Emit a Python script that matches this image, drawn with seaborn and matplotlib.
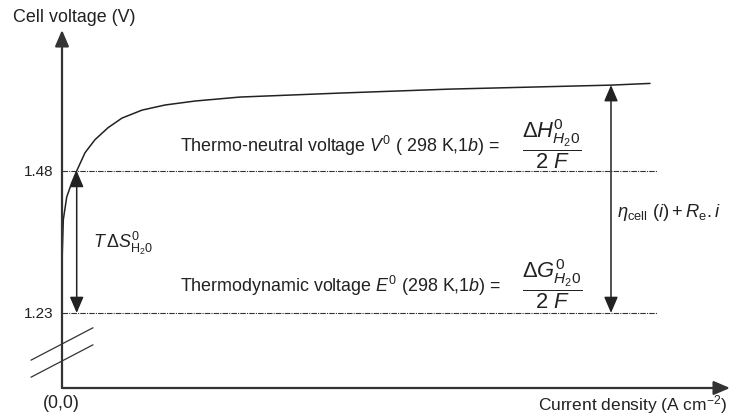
import numpy as np
import pandas as pd
import matplotlib
matplotlib.use("Agg")
import matplotlib.pyplot as plt
import seaborn as sns

# Polarisation curve of the electrolysis cell (arbitrary current-density units)
current_density = [0.000, 0.003, 0.013, 0.047, 0.097, 0.147, 0.23, 0.33, 0.46,
                   0.60, 0.80, 1.03, 1.33, 1.78, 2.78, 3.88, 5.49, 5.88]
cell_voltage = [1.302, 1.336, 1.394, 1.434, 1.459, 1.480, 1.512, 1.535, 1.556,
                1.573, 1.587, 1.596, 1.603, 1.610, 1.617, 1.624, 1.631, 1.634]

# Reference voltages
thermoneutral_v = 1.48
thermodynamic_v = 1.23
ytick_values = [thermodynamic_v, thermoneutral_v]
ytick_labels = ["1.23", "1.48"]

# Abscissae of the two bracket arrows
entropy_arrow_x = 0.147
overvoltage_arrow_x = 5.49
overvoltage_top = 1.631

sns.set_theme(style="white")
plt.rcParams["font.family"] = ["Liberation Sans", "DejaVu Sans"]
plt.rcParams["mathtext.fontset"] = "custom"
plt.rcParams["mathtext.rm"] = "Liberation Sans"
plt.rcParams["mathtext.it"] = "Liberation Sans:italic"
plt.rcParams["mathtext.bf"] = "Liberation Sans:bold"

W, H = 731, 418
fig = plt.figure(figsize=(W / 100, H / 100), dpi=100)
ax = fig.add_axes([62 / W, 30 / H, 668 / W, 358 / H])
ax.set_xlim(0, 6.68)
ax.set_ylim(1.098, 1.728)
for s in ax.spines.values():
    s.set_visible(False)
ax.set_xticks([])
ax.set_yticks(ytick_values)
ax.set_yticklabels(ytick_labels, fontsize=11, color="#222222")
ax.tick_params(axis="y", length=0, pad=6)

# Axes with arrowheads
axis_arrow = dict(arrowstyle="-|>,head_length=0.7,head_width=0.3",
                  color="#333333", lw=1.6, shrinkA=0, shrinkB=0,
                  mutation_scale=14)
ax.annotate("", xy=(0, 1), xytext=(0, 0), xycoords="axes fraction",
            arrowprops=axis_arrow)
ax.annotate("", xy=(1, 0), xytext=(0, 0), xycoords="axes fraction",
            arrowprops=axis_arrow)

# Axis break marks
for y0 in (1.147, 1.117):
    ax.plot([-0.31, 0.31], [y0, y0 + 0.057], color="#333333", lw=0.9,
            clip_on=False)

# Reference voltage levels
for v in (thermoneutral_v, thermodynamic_v):
    ax.plot([0, 5.95], [v, v], color="#333333", lw=0.8,
            linestyle=(0, (5, 1, 1, 1)))

# Polarisation curve
curve = pd.DataFrame({"j": current_density, "U": cell_voltage})
sns.lineplot(data=curve, x="j", y="U", ax=ax, color="#222222", lw=1.1,
             estimator=None, sort=False)
ax.set_xlabel("")
ax.set_ylabel("")

arrow_kw = dict(arrowstyle="<|-|>,head_length=0.7,head_width=0.3",
                color="#222222", lw=1.1, shrinkA=0, shrinkB=0,
                mutation_scale=14)
ax.annotate("", xy=(entropy_arrow_x, thermoneutral_v),
            xytext=(entropy_arrow_x, thermodynamic_v), arrowprops=arrow_kw)
ax.annotate("", xy=(overvoltage_arrow_x, overvoltage_top),
            xytext=(overvoltage_arrow_x, thermodynamic_v), arrowprops=arrow_kw)

tc = "#222222"
fs = 12.9
ffs = 15.8
ax.text(1.18, 1.524, r"Thermo-neutral voltage $V^{0}$ ( 298 K,1$b$) =",
        fontsize=fs, color=tc, va="center", ha="left")
ax.text(4.90, 1.527, r"$\dfrac{\Delta H^{0}_{H_2 0}}{2\ F}$",
        fontsize=ffs, color=tc, va="center", ha="center")
ax.text(1.18, 1.2775, r"Thermodynamic voltage $E^{0}$ (298 K,1$b$) =",
        fontsize=fs, color=tc, va="center", ha="left")
ax.text(4.90, 1.2805, r"$\dfrac{\Delta G^{0}_{H_2 0}}{2\ F}$",
        fontsize=ffs, color=tc, va="center", ha="center")
ax.text(0.31, 1.353, r"$T\,\Delta S^{0}_{\mathrm{H_2 0}}$",
        fontsize=fs, color=tc, va="center", ha="left")
ax.text(5.55, 1.406, r"$\eta_{\mathrm{cell}}\ (i) + R_{\mathrm{e}}.i$",
        fontsize=13.2, color=tc, va="center", ha="left")

fig.text(13 / W, 1 - 18 / H, "Cell voltage (V)", fontsize=fs, color=tc,
         va="center", ha="left")
fig.text(61 / W, 1 - 403 / H, "(0,0)", fontsize=fs, color=tc,
         va="center", ha="center")
fig.text(727 / W, 2 / H, r"Current density (A cm$^{-2}$)", fontsize=12.5,
         color=tc, va="bottom", ha="right")

fig.savefig("out.png", dpi=100)
